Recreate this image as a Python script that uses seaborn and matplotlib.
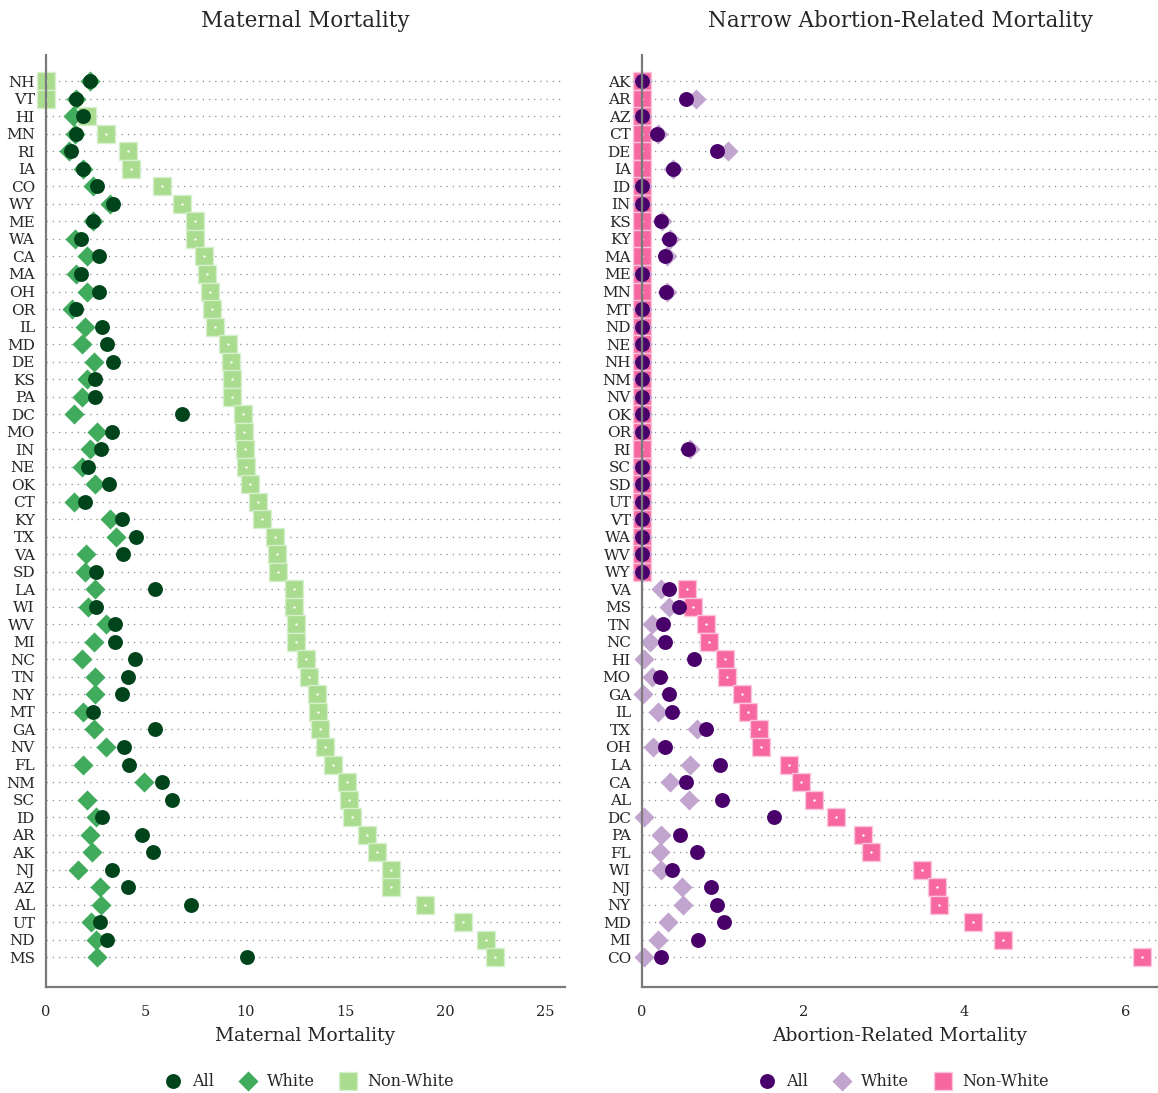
import matplotlib
matplotlib.use("Agg")
import matplotlib.pyplot as plt
import seaborn as sns

# Maternal mortality, states in plotted order (top to bottom)
mm_states = ["NH", "VT", "HI", "MN", "RI", "IA", "CO", "WY", "ME", "WA", "CA", "MA", "OH",
             "OR", "IL", "MD", "DE", "KS", "PA", "DC", "MO", "IN", "NE", "OK", "CT", "KY",
             "TX", "VA", "SD", "LA", "WI", "WV", "MI", "NC", "TN", "NY", "MT", "GA", "NV",
             "FL", "NM", "SC", "ID", "AR", "AK", "NJ", "AZ", "AL", "UT", "ND", "MS"]
mm_all = [2.2, 1.5, 1.85, 1.5, 1.25, 1.85, 2.55, 3.35, 2.35, 1.73, 2.67, 1.73, 2.65,
          1.5, 2.8, 3.07, 3.37, 2.45, 2.45, 6.8, 3.3, 2.75, 2.12, 3.17, 1.95, 3.83,
          4.5, 3.87, 2.5, 5.45, 2.48, 3.48, 3.48, 4.45, 4.12, 3.82, 2.37, 5.45, 3.9,
          4.18, 5.8, 6.3, 2.8, 4.83, 5.38, 3.3, 4.1, 7.24, 2.73, 3.07, 10.07]
mm_white = [2.2, 1.5, 1.35, 1.45, 1.15, 1.85, 2.35, 3.2, 2.35, 1.45, 2.07, 1.5, 2.07,
            1.3, 1.95, 1.8, 2.42, 2.07, 1.8, 1.4, 2.53, 2.2, 1.8, 2.45, 1.4, 3.2,
            3.53, 2.0, 1.95, 2.45, 2.12, 3.03, 2.42, 1.8, 2.45, 2.45, 1.87, 2.4, 3.03,
            1.87, 4.9, 2.05, 2.5, 2.18, 2.29, 1.62, 2.7, 2.75, 2.23, 2.5, 2.55]
mm_nonwhite = [0, 0, 2.05, 3.0, 4.1, 4.25, 5.8, 6.8, 7.45, 7.45, 7.9, 8.05, 8.2,
               8.3, 8.45, 9.1, 9.25, 9.3, 9.3, 9.85, 9.93, 9.97, 10.0, 10.2, 10.6, 10.8,
               11.45, 11.55, 11.6, 12.4, 12.4, 12.5, 12.5, 13.0, 13.2, 13.6, 13.65, 13.75, 13.97,
               14.4, 15.1, 15.2, 15.35, 16.1, 16.6, 17.3, 17.3, 19.0, 20.9, 22.05, 22.5]

# Narrow abortion-related mortality
ar_states = ["AK", "AR", "AZ", "CT", "DE", "IA", "ID", "IN", "KS", "KY", "MA", "ME", "MN",
             "MT", "ND", "NE", "NH", "NM", "NV", "OK", "OR", "RI", "SC", "SD", "UT", "VT",
             "WA", "WV", "WY", "VA", "MS", "TN", "NC", "HI", "MO", "GA", "IL", "TX", "OH",
             "LA", "CA", "AL", "DC", "PA", "FL", "WI", "NJ", "NY", "MD", "MI", "CO"]
ar_all = [0, 0.55, 0, 0.18, 0.93, 0.39, 0, 0, 0.24, 0.33, 0.29, 0, 0.3,
          0, 0, 0, 0, 0, 0, 0, 0, 0.57, 0, 0, 0, 0,
          0, 0, 0, 0.33, 0.46, 0.26, 0.29, 0.65, 0.22, 0.33, 0.37, 0.79, 0.29,
          0.97, 0.54, 0.99, 1.64, 0.47, 0.68, 0.37, 0.86, 0.93, 1.02, 0.69, 0.24]
ar_white = [0, 0.67, 0, 0.2, 1.07, 0.39, 0, 0, 0.25, 0.35, 0.31, 0, 0.31,
            0, 0, 0, 0, 0, 0, 0, 0, 0.6, 0, 0, 0, 0,
            0, 0, 0, 0.24, 0.33, 0.12, 0.1, 0.02, 0.12, 0.01, 0.2, 0.68, 0.14,
            0.59, 0.35, 0.58, 0.02, 0.23, 0.22, 0.24, 0.5, 0.51, 0.32, 0.2, 0.02]
ar_nonwhite = [0, 0, 0, 0, 0, 0, 0, 0, 0, 0, 0, 0, 0,
               0, 0, 0, 0, 0, 0, 0, 0, 0, 0, 0, 0, 0,
               0, 0, 0, 0.56, 0.63, 0.79, 0.83, 1.03, 1.06, 1.24, 1.32, 1.45, 1.47,
               1.82, 1.97, 2.13, 2.40, 2.74, 2.84, 3.47, 3.66, 3.68, 4.1, 4.48, 6.2]

green = {"All": "#00441b", "White": "#41ab5d", "Non-White": "#a9dc8e", "edge": "#d6efcc"}
purple = {"All": "#49006a", "White": "#c2a5cf", "Non-White": "#f768a1", "edge": "#fbc6dc"}

sns.set_theme(style="white")
plt.rcParams["font.family"] = ["DejaVu Serif"]

fig = plt.figure(figsize=(11.58, 10.93), dpi=100)
ax1 = fig.add_axes([46 / 1158, 1 - 987 / 1093, (565 - 46) / 1158, (987 - 55) / 1093])
ax2 = fig.add_axes([642 / 1158, 1 - 987 / 1093, (1158 - 642) / 1158, (987 - 55) / 1093])


def dot_panel(ax, states, v_all, v_white, v_nonwhite, pal, title, xlabel, xmax, ticks):
    # draw order: squares at the back, circles on top
    sns.scatterplot(x=v_nonwhite, y=states, marker="s", s=160, color=pal["Non-White"],
                    edgecolor=pal["edge"], linewidth=1, label="Non-White", ax=ax, clip_on=False)
    sns.scatterplot(x=v_nonwhite, y=states, marker="o", s=3, color="white",
                    linewidth=0, ax=ax, clip_on=False, legend=False)
    sns.scatterplot(x=v_white, y=states, marker="D", s=105, color=pal["White"],
                    linewidth=0, label="White", ax=ax, clip_on=False)
    sns.scatterplot(x=v_all, y=states, marker="o", s=115, color=pal["All"],
                    linewidth=0, label="All", ax=ax, clip_on=False)

    ax.set_xlim(0, xmax)
    ax.set_ylim(51.7, -1.5)
    ax.set_xticks(ticks)
    ax.grid(axis="y", linestyle=(0, (1, 4)), color="#8a8a8a", linewidth=0.9)
    ax.grid(axis="x", visible=False)
    ax.set_axisbelow(True)
    for side in ["top", "right"]:
        ax.spines[side].set_visible(False)
    for side in ["left", "bottom"]:
        ax.spines[side].set_color("#7a7a7a")
        ax.spines[side].set_linewidth(1.6)
    ax.tick_params(axis="y", length=0, pad=8, labelsize=11)
    ax.tick_params(axis="x", length=0, pad=13, labelsize=10.5)
    ax.set_title(title, fontsize=15.5, pad=20)
    ax.set_xlabel(xlabel, fontsize=13.5, labelpad=6)
    ax.set_ylabel("")

    handles, labels = ax.get_legend_handles_labels()
    order = [labels.index(k) for k in ["All", "White", "Non-White"]]
    ax.legend([handles[i] for i in order], [labels[i] for i in order],
              loc="upper center", bbox_to_anchor=(0.5, -0.0815), ncol=3, frameon=False,
              fontsize=11.5, handletextpad=0.2, columnspacing=1.1, borderaxespad=0.2)


dot_panel(ax1, mm_states, mm_all, mm_white, mm_nonwhite, green,
          "Maternal Mortality", "Maternal Mortality", 26, [0, 5, 10, 15, 20, 25])
dot_panel(ax2, ar_states, ar_all, ar_white, ar_nonwhite, purple,
          "Narrow Abortion-Related Mortality", "Abortion-Related Mortality", 6.4, [0, 2, 4, 6])

fig.savefig("out.png", dpi=100)
